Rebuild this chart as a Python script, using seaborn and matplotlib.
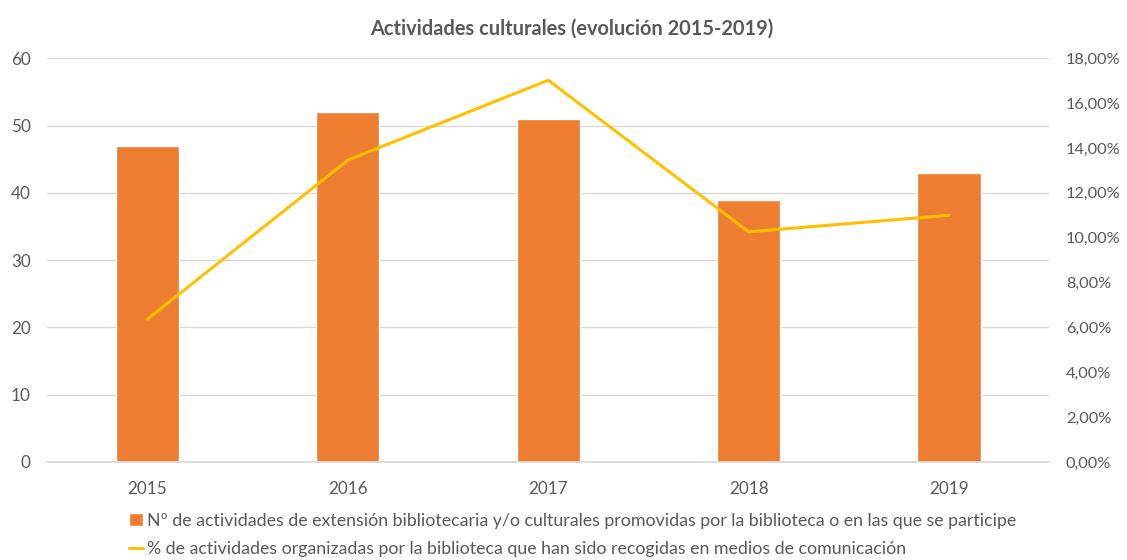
import matplotlib.pyplot as plt
import matplotlib.ticker as mticker
import seaborn as sns
import pandas as pd

years = ["2015", "2016", "2017", "2018", "2019"]
actividades = [47, 52, 51, 39, 43]
pct_medios = [0.0637, 0.1346, 0.1702, 0.1026, 0.1100]

lbl_bar = "Nº de actividades de extensión bibliotecaria y/o culturales promovidas por la biblioteca o en las que se participe"
lbl_line = "% de actividades organizadas por la biblioteca que han sido recogidas en medios de comunicación"

df = pd.DataFrame({"year": years, "n": actividades, "pct": pct_medios})

sns.set_theme(style="white")
plt.rcParams["font.family"] = ["Lato", "DejaVu Sans"]
grey = "#595959"

fig = plt.figure(figsize=(11.27, 5.6), dpi=100)
ax = fig.add_axes([0.042, 0.175, 0.889, 0.721])

sns.barplot(data=df, x="year", y="n", color="#ED7D31", saturation=1, width=0.315, ax=ax, label=lbl_bar)
ax.set_ylim(0, 60)
ax.set_yticks(range(0, 61, 10))
ax.yaxis.grid(True, color="#D9D9D9", linewidth=1)
ax.set_axisbelow(True)
ax.set_xlim(-0.5, 4.5)
ax.set_xlabel("")
ax.set_ylabel("")
for s in ["top", "right", "left"]:
    ax.spines[s].set_visible(False)
ax.spines["bottom"].set_color("#D9D9D9")
ax.tick_params(axis="both", colors=grey, labelsize=12.3, length=0)
ax.tick_params(axis="y", pad=12)
ax.tick_params(axis="x", pad=14)

ax2 = ax.twinx()
sns.lineplot(x=list(range(len(years))), y=pct_medios, color="#FFC000", linewidth=2.2, ax=ax2, label=lbl_line)
ax2.set_ylim(0, 0.18)
ax2.set_yticks([i / 100 for i in range(0, 19, 2)])
ax2.yaxis.set_major_formatter(mticker.FuncFormatter(lambda v, p: f"{v*100:.2f}%".replace(".", ",")))
ax2.tick_params(axis="y", colors=grey, labelsize=11.8, length=0, pad=12)
for s in ax2.spines.values():
    s.set_visible(False)
if ax2.get_legend():
    ax2.get_legend().remove()
if ax.get_legend():
    ax.get_legend().remove()

h1, l1 = ax.get_legend_handles_labels()
h2, l2 = ax2.get_legend_handles_labels()
fig.legend(h1 + h2, l1 + l2, loc="upper center", bbox_to_anchor=(0.508, 0.113), ncol=1,
           frameon=False, fontsize=12.8, labelcolor=grey, handlelength=0.8, handletextpad=0.2,
           labelspacing=0.7)

fig.suptitle("Actividades culturales (evolución 2015-2019)", x=0.507, y=0.966,
             fontsize=14.4, fontweight="bold", color=grey)

fig.savefig("out.png", dpi=100)
